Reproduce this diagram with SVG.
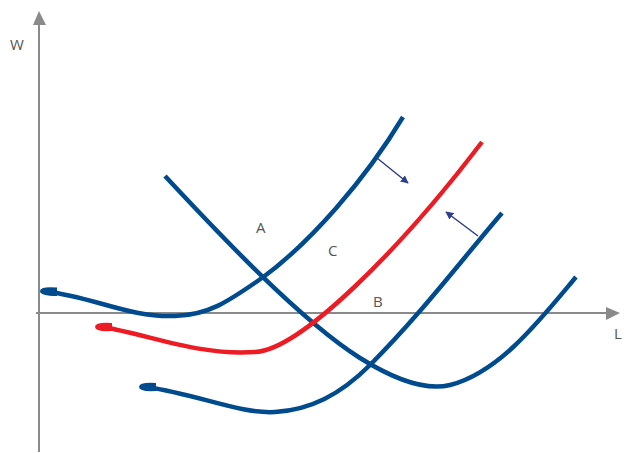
<svg xmlns="http://www.w3.org/2000/svg" width="624" height="453" viewBox="0 0 624 453">
<defs>
<style>
.axis{stroke:#8a8a8a;stroke-width:2;fill:none}
.curve{fill:none;stroke-width:4.5;stroke-linecap:butt}
.blue{stroke:#004b8d}
.red{stroke:#ed1c24}
.lbl{font-family:"Open Sans","Liberation Sans",Arial,sans-serif;font-size:15px;fill:#555}
.sh{stroke:#2e3f8f;stroke-width:1.5;fill:none}
</style>
<marker id="ah" viewBox="0 0 10 10" refX="9" refY="5" markerWidth="8" markerHeight="8" markerUnits="userSpaceOnUse" orient="auto"><path d="M0,0 L10,5 L0,10 Z" fill="#2e3f8f"/></marker>
</defs>
<g id="axes">
<line class="axis" x1="39" y1="452" x2="39" y2="24"/>
<path d="M33,25 L39,11 L46,25 Z" fill="#8a8a8a"/>
<line class="axis" x1="36" y1="313" x2="606" y2="313"/>
<path d="M606,307 L620,313 L606,320 Z" fill="#8a8a8a"/>
</g>
<g id="labels">
<text class="lbl" x="10" y="50">W</text>
<text class="lbl" x="614" y="339">L</text>
<text class="lbl" x="256" y="233">A</text>
<text class="lbl" x="328" y="256">C</text>
<text class="lbl" x="373" y="307">B</text>
</g>
<g id="connectors">
<path id="curve1" class="curve blue" d="M48,292 C 90,296 130,318 175,316 C 210,315 230,300 262,278 C 310,243 365,180 403,117"/>
<path d="M40,291 Q40,286 57,287.5 L57,296 Q40,296 40,291 Z" fill="#004b8d"/>
<path id="lineD" class="curve blue" d="M165,176 C 220,235 300,320 360,358 C 400,383 430,390 450,385 C 500,372 540,320 576,277"/>
<path id="red" class="curve red" d="M103,327 C 150,335 200,356 255,352 C 300,350 400,250 482,142"/>
<path d="M95,327 Q95,322 112,323 L112,331 Q95,332 95,327 Z" fill="#ed1c24"/>
<path id="curve3" class="curve blue" d="M147,387 C 200,395 240,414 275,412 C 310,410 340,395 370,365 C 420,315 460,262 502,213"/>
<path d="M139,387 Q139,382 156,383 L156,391 Q139,392 139,387 Z" fill="#004b8d"/>
<line class="sh" x1="377" y1="158" x2="408" y2="183" marker-end="url(#ah)"/>
<line class="sh" x1="478" y1="236" x2="446" y2="212" marker-end="url(#ah)"/>
</g>
</svg>
